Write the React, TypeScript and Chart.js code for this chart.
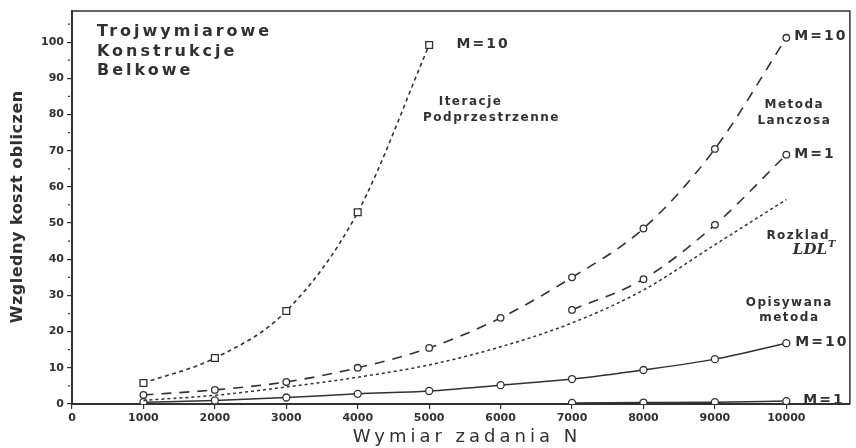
import React, { useEffect, useRef } from 'react';
import { Chart, registerables } from 'chart.js';

Chart.register(...registerables);

// ---- data ----
const allN = [1000, 2000, 3000, 4000, 5000, 6000, 7000, 8000, 9000, 10000];
const iterN = [1000, 2000, 3000, 4000, 5000];
const iterM10 = [5.8, 12.7, 25.7, 53, 99.2];
const lanczosM10 = [2.5, 3.9, 6.1, 10, 15.5, 23.8, 35, 48.5, 70.5, 101.2];
const lanczosM1N = [7000, 8000, 9000, 10000];
const lanczosM1 = [26, 34.5, 49.5, 68.9];
const ldl = [1.0, 2.4, 4.7, 7.4, 10.8, 15.8, 22.4, 31.5, 44, 56.5];
const opisM10 = [0.5, 1.0, 1.8, 2.8, 3.6, 5.2, 6.9, 9.4, 12.4, 16.8];
const opisM1N = [7000, 8000, 9000, 10000];
const opisM1 = [0.3, 0.4, 0.5, 0.8];

const xTicks = [0, 1000, 2000, 3000, 4000, 5000, 6000, 7000, 8000, 9000, 10000];
const yTicks = [0, 10, 20, 30, 40, 50, 60, 70, 80, 90, 100];
const yMinorTicks = [5, 15, 25, 35, 45, 55, 65, 75, 85, 95, 105];

const titleLines = ['Trojwymiarowe', 'Konstrukcje', 'Belkowe'];
const yTitle = 'Wzgledny koszt obliczen';
const xTitle = 'Wymiar zadania N';

// annotation labels (data coordinates)
const notes = [
  { t: 'M=10', x: 5384, y: 99.4, align: 'left', size: 14 },
  { t: 'Iteracje', x: 5579, y: 83.4, align: 'center', size: 12 },
  { t: 'Podprzestrzenne', x: 5872, y: 79.0, align: 'center', size: 12 },
  { t: 'M=10', x: 10112, y: 101.7, align: 'left', size: 14 },
  { t: 'Metoda', x: 10112, y: 82.6, align: 'center', size: 12 },
  { t: 'Lanczosa', x: 10112, y: 78.2, align: 'center', size: 12 },
  { t: 'M=1', x: 10112, y: 69.1, align: 'left', size: 14 },
  { t: 'Rozklad', x: 10167, y: 46.4, align: 'center', size: 12 },
  { t: 'Opisywana', x: 10042, y: 27.9, align: 'center', size: 12 },
  { t: 'metoda', x: 10042, y: 23.8, align: 'center', size: 12 },
  { t: 'M=10', x: 10126, y: 17.1, align: 'left', size: 14 },
  { t: 'M=1', x: 10237, y: 0.9, align: 'left', size: 14 },
];
const ldlNote = { x: 10330, y: 42.5 };

const INK = '#333030';
const FAMILY = '"DejaVu Sans", sans-serif';

const pts = (xs: number[], ys: number[]) => xs.map((x, i) => ({ x, y: ys[i] }));

const decorPlugin = {
  id: 'decor',
  afterDraw(chart: any) {
    const { ctx, chartArea: a, scales } = chart;
    const xs = scales.x;
    const ys = scales.y;
    ctx.save();
    // frame top & right
    ctx.strokeStyle = INK;
    ctx.lineWidth = 1.5;
    ctx.beginPath();
    ctx.moveTo(a.left, a.top);
    ctx.lineTo(a.right, a.top);
    ctx.lineTo(a.right, a.bottom);
    ctx.stroke();
    // minor y ticks
    ctx.lineWidth = 1.2;
    for (const v of yMinorTicks) {
      const py = ys.getPixelForValue(v);
      ctx.beginPath();
      ctx.moveTo(a.left - 4, py);
      ctx.lineTo(a.left - 2, py);
      ctx.stroke();
    }
    ctx.fillStyle = INK;
    ctx.textBaseline = 'middle';
    // notes
    for (const n of notes) {
      ctx.font = `bold ${n.size}px ${FAMILY}`;
      (ctx as any).letterSpacing = n.size >= 14 ? '2px' : '1.5px';
      ctx.textAlign = n.align as CanvasTextAlign;
      ctx.fillText(n.t, xs.getPixelForValue(n.x), ys.getPixelForValue(n.y));
    }
    // LDL^T
    (ctx as any).letterSpacing = '0px';
    ctx.font = `italic bold 15px "DejaVu Serif", serif`;
    ctx.textAlign = 'center';
    const lx = xs.getPixelForValue(ldlNote.x);
    const ly = ys.getPixelForValue(ldlNote.y);
    ctx.fillText('LDL', lx, ly);
    const w = ctx.measureText('LDL').width;
    ctx.font = `italic bold 10px "DejaVu Serif", serif`;
    ctx.textAlign = 'left';
    ctx.fillText('T', lx + w / 2 + 1, ly - 6);
    // title block
    ctx.font = `bold 16px ${FAMILY}`;
    (ctx as any).letterSpacing = '3px';
    ctx.textAlign = 'left';
    ctx.textBaseline = 'alphabetic';
    titleLines.forEach((s, i) => ctx.fillText(s, a.left + 25, a.top + 25 + i * 19.5));
    // x title
    ctx.font = `18px ${FAMILY}`;
    (ctx as any).letterSpacing = '4px';
    ctx.textAlign = 'center';
    ctx.textBaseline = 'middle';
    ctx.fillText(xTitle, (a.left + a.right) / 2 + 6, 437);
    // y title
    ctx.font = `bold 16px ${FAMILY}`;
    (ctx as any).letterSpacing = '0.5px';
    ctx.translate(18, ys.getPixelForValue(54.5));
    ctx.rotate(-Math.PI / 2);
    ctx.fillText(yTitle, 0, 0);
    ctx.restore();
  },
};

export default function App() {
  const ref = useRef<HTMLCanvasElement>(null);
  useEffect(() => {
    document.body.style.margin = '0';
    const canvas = ref.current!;
    const common = {
      borderColor: INK,
      pointBorderColor: INK,
      pointBackgroundColor: '#ffffff',
      pointBorderWidth: 1.3,
      cubicInterpolationMode: 'monotone' as const,
      fill: false,
    };
    const chart = new Chart(canvas, {
      type: 'line',
      data: {
        datasets: [
          { ...common, label: 'Iteracje M=10', data: pts(iterN, iterM10), borderWidth: 1.6, borderDash: [4, 3.5], pointStyle: 'rect', pointRadius: 4.8 },
          { ...common, label: 'Lanczos M=10', data: pts(allN, lanczosM10), borderWidth: 1.6, borderDash: [10, 8], pointStyle: 'circle', pointRadius: 3.3 },
          { ...common, label: 'Lanczos M=1', data: pts(lanczosM1N, lanczosM1), borderWidth: 1.6, borderDash: [10, 8], pointStyle: 'circle', pointRadius: 3.3 },
          { ...common, label: 'LDL', data: pts(allN, ldl), borderWidth: 1.5, borderDash: [3, 3], pointRadius: 0 },
          { ...common, label: 'Opisywana M=10', data: pts(allN, opisM10), borderWidth: 1.5, pointStyle: 'circle', pointRadius: 3.5 },
          { ...common, label: 'Opisywana M=1', data: pts(opisM1N, opisM1), borderWidth: 1.5, pointStyle: 'circle', pointRadius: 3.5 },
        ],
      },
      options: {
        responsive: false,
        animation: false,
        devicePixelRatio: 1,
        layout: { padding: { top: 11, right: 3, left: 0, bottom: 0 } },
        plugins: { legend: { display: false }, tooltip: { enabled: false } },
        scales: {
          x: {
            type: 'linear',
            min: 0,
            max: 10890,
            afterBuildTicks: (s: any) => { s.ticks = xTicks.map((v) => ({ value: v })); },
            afterFit: (s: any) => { s.height = 44; },
            grid: { drawOnChartArea: false, drawTicks: true, tickLength: 5, color: INK, lineWidth: 1.2 },
            border: { display: true, color: INK, width: 2 },
            ticks: { callback: (v: any) => String(v), font: { family: FAMILY, size: 11, weight: 'bold' }, color: INK, padding: 3, maxRotation: 0, autoSkip: false },
          },
          y: {
            type: 'linear',
            min: 0,
            max: 108.6,
            afterBuildTicks: (s: any) => { s.ticks = yTicks.map((v) => ({ value: v })); },
            afterFit: (s: any) => { s.width = 72; },
            grid: { drawOnChartArea: false, drawTicks: true, tickLength: 5, color: INK, lineWidth: 1.2 },
            border: { display: true, color: INK, width: 2 },
            ticks: { callback: (v: any) => String(v), font: { family: FAMILY, size: 11, weight: 'bold' }, color: INK, padding: 3 },
          },
        },
      },
      plugins: [decorPlugin],
    } as any);
    return () => chart.destroy();
  }, []);
  return <canvas ref={ref} width={856} height={448} style={{ display: 'block' }} />;
}
